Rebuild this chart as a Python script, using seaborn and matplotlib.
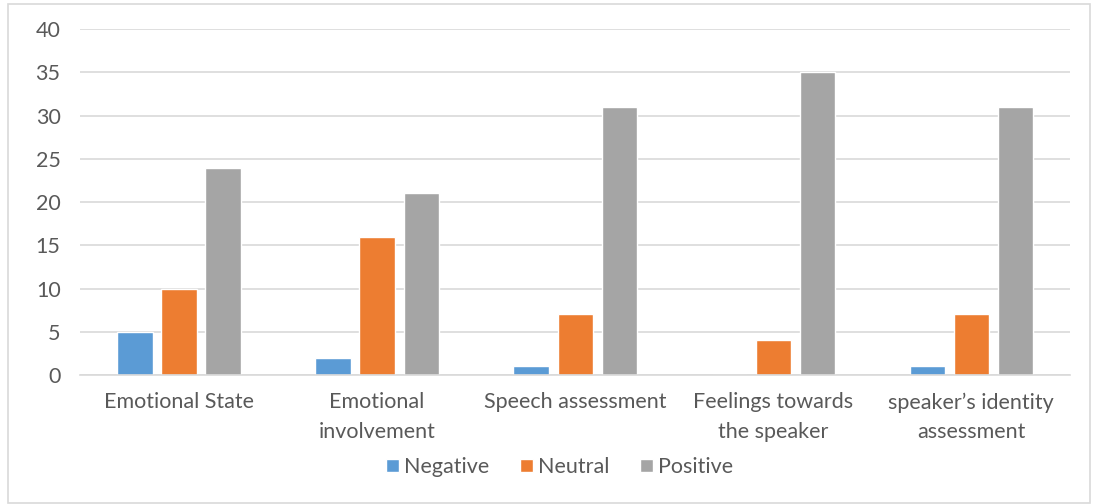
import pandas as pd
import matplotlib.pyplot as plt
import seaborn as sns

# data
categories = ["Emotional State", "Emotional\ninvolvement", "Speech assessment",
              "Feelings towards\nthe speaker", "speaker\u2019s identity\nassessment"]
negative = [5, 2, 1, 0, 1]
neutral = [10, 16, 7, 4, 7]
positive = [24, 21, 31, 35, 31]
series = ["Negative", "Neutral", "Positive"]
colors = ["#5B9BD5", "#ED7D31", "#A5A5A5"]

df = pd.DataFrame({
    "category": categories * 3,
    "series": [series[0]] * 5 + [series[1]] * 5 + [series[2]] * 5,
    "value": negative + neutral + positive,
})

sns.set_style("white")
plt.rcParams["font.family"] = ["Lato", "DejaVu Sans"]
text_color = "#595959"

fig = plt.figure(figsize=(10.93, 5.04), dpi=100)
ax = fig.add_axes([0.0732, 0.256, 0.906, 0.686])

sns.barplot(data=df, x="category", y="value", hue="series", order=categories,
            hue_order=series, palette=colors, width=0.667, gap=0.2,
            saturation=1, ax=ax, legend=True)

ax.set_ylim(0, 40)
ax.set_yticks(range(0, 41, 5))
ax.set_xlim(-0.5, 4.5)
ax.yaxis.grid(True, color="#D9D9D9", linewidth=1.2)
ax.set_axisbelow(True)
for s in ["top", "right", "left"]:
    ax.spines[s].set_visible(False)
ax.spines["bottom"].set_color("#D9D9D9")
ax.spines["bottom"].set_linewidth(1.2)
ax.set_xlabel("")
ax.set_ylabel("")
ax.tick_params(axis="both", length=0, labelsize=15.5, colors=text_color)
ax.tick_params(axis="x", pad=12.5)
ax.tick_params(axis="y", pad=14)
for lbl in ax.get_xticklabels():
    lbl.set_linespacing(1.58)

handles, labels = ax.get_legend_handles_labels()
ax.get_legend().remove()
fig.legend(handles, labels, loc="center", bbox_to_anchor=(0.512, 0.073), ncol=3,
           frameon=False, fontsize=15.5, labelcolor=text_color,
           handlelength=0.6, handleheight=0.6, handletextpad=0.25, columnspacing=1.4)

# outer chart border
fig.patches.append(plt.Rectangle((0.007, 0.002), 0.99, 0.99, transform=fig.transFigure,
                                 fill=False, edgecolor="#D9D9D9", linewidth=1.2))

plt.savefig("out.png", dpi=100)
